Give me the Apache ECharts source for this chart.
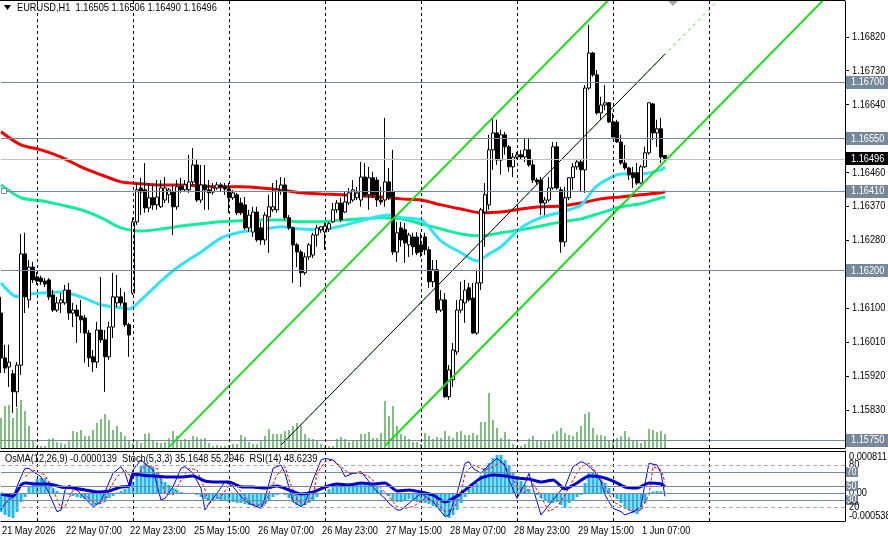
<!DOCTYPE html>
<html><head><meta charset="utf-8">
<script src="https://cdn.jsdelivr.net/npm/echarts@6/dist/echarts.min.js"></script>
<style>html,body{margin:0;padding:0;background:#fff}#c{width:888px;height:546px}</style>
</head><body><div id="c"></div>
<script>
// ---- data (EURUSD H1, bar 0 = 21 May 15:00 ... bar 166 = 1 Jun 13:00) ----
const open=[1.16087,1.15968,1.15944,1.15926,1.15878,1.15949,1.16244,1.16122,1.16209,1.16183,1.16180,1.16172,1.16175,1.16135,1.16095,1.16114,1.16114,1.16148,1.16087,1.16095,1.16079,1.16074,1.16034,1.15971,1.15957,1.16042,1.16016,1.15971,1.16050,1.16114,1.16130,1.16114,1.16056,1.16140,1.16329,1.16419,1.16414,1.16366,1.16393,1.16374,1.16369,1.16387,1.16401,1.16408,1.16369,1.16422,1.16414,1.16414,1.16435,1.16480,1.16387,1.16427,1.16414,1.16408,1.16419,1.16427,1.16422,1.16416,1.16393,1.16401,1.16379,1.16374,1.16313,1.16302,1.16355,1.16313,1.16281,1.16342,1.16361,1.16361,1.16414,1.16427,1.16340,1.16313,1.16268,1.16249,1.16194,1.16236,1.16241,1.16294,1.16308,1.16302,1.16310,1.16329,1.16361,1.16379,1.16355,1.16379,1.16387,1.16393,1.16387,1.16448,1.16401,1.16446,1.16440,1.16387,1.16387,1.16435,1.16408,1.16249,1.16313,1.16308,1.16268,1.16289,1.16289,1.16268,1.16289,1.16255,1.16170,1.16202,1.16095,1.16122,1.15865,1.15910,1.15984,1.16095,1.16114,1.16154,1.16127,1.16034,1.16167,1.16355,1.16374,1.16520,1.16565,1.16493,1.16560,1.16528,1.16475,1.16501,1.16507,1.16501,1.16520,1.16480,1.16440,1.16440,1.16379,1.16387,1.16419,1.16528,1.16414,1.16276,1.16393,1.16446,1.16475,1.16488,1.16467,1.16684,1.16777,1.16719,1.16618,1.16639,1.16645,1.16594,1.16594,1.16541,1.16485,1.16472,1.16459,1.16459,1.16432,1.16475,1.16512,1.16642,1.16565,1.16576,1.16505];
const high=[1.16130,1.16003,1.16003,1.15936,1.15957,1.16297,1.16300,1.16228,1.16223,1.16196,1.16186,1.16180,1.16180,1.16148,1.16130,1.16140,1.16162,1.16167,1.16114,1.16109,1.16122,1.16082,1.16042,1.15989,1.16064,1.16183,1.16042,1.16064,1.16194,1.16188,1.16154,1.16143,1.16061,1.16340,1.16432,1.16446,1.16485,1.16432,1.16427,1.16440,1.16440,1.16448,1.16419,1.16427,1.16440,1.16446,1.16440,1.16507,1.16525,1.16493,1.16480,1.16480,1.16440,1.16432,1.16435,1.16432,1.16432,1.16432,1.16414,1.16406,1.16393,1.16395,1.16361,1.16369,1.16369,1.16329,1.16355,1.16401,1.16432,1.16440,1.16448,1.16446,1.16347,1.16316,1.16273,1.16255,1.16247,1.16273,1.16300,1.16321,1.16318,1.16326,1.16329,1.16379,1.16387,1.16393,1.16408,1.16419,1.16440,1.16422,1.16488,1.16485,1.16475,1.16462,1.16448,1.16422,1.16605,1.16472,1.16520,1.16329,1.16329,1.16326,1.16300,1.16300,1.16302,1.16300,1.16300,1.16263,1.16228,1.16228,1.16148,1.16140,1.15949,1.16008,1.16122,1.16170,1.16175,1.16167,1.16167,1.16202,1.16366,1.16432,1.16560,1.16605,1.16600,1.16573,1.16568,1.16533,1.16512,1.16515,1.16520,1.16552,1.16552,1.16493,1.16446,1.16448,1.16395,1.16448,1.16541,1.16541,1.16422,1.16422,1.16448,1.16485,1.16493,1.16493,1.16692,1.16852,1.16780,1.16732,1.16661,1.16692,1.16647,1.16618,1.16600,1.16560,1.16533,1.16475,1.16475,1.16485,1.16480,1.16528,1.16645,1.16645,1.16600,1.16605,1.16506];
const low=[1.15928,1.15928,1.15891,1.15822,1.15838,1.15923,1.16087,1.16101,1.16167,1.16162,1.16162,1.16156,1.16122,1.16090,1.16090,1.16087,1.16109,1.16069,1.16050,1.16008,1.16034,1.15955,1.15944,1.15931,1.15941,1.16008,1.15878,1.15963,1.16021,1.16103,1.16106,1.16050,1.15971,1.16135,1.16321,1.16347,1.16353,1.16355,1.16361,1.16361,1.16366,1.16379,1.16379,1.16294,1.16361,1.16406,1.16408,1.16406,1.16427,1.16382,1.16379,1.16361,1.16361,1.16401,1.16414,1.16408,1.16401,1.16353,1.16387,1.16347,1.16347,1.16308,1.16302,1.16289,1.16276,1.16268,1.16268,1.16247,1.16355,1.16353,1.16401,1.16334,1.16308,1.16167,1.16209,1.16156,1.16188,1.16228,1.16233,1.16263,1.16300,1.16255,1.16302,1.16326,1.16353,1.16329,1.16353,1.16374,1.16382,1.16387,1.16369,1.16395,1.16361,1.16393,1.16369,1.16374,1.16369,1.16387,1.16241,1.16223,1.16263,1.16220,1.16236,1.16241,1.16241,1.16236,1.16241,1.16154,1.16156,1.16087,1.16090,1.15862,1.15857,1.15891,1.15976,1.16087,1.16061,1.16117,1.16032,1.16029,1.16148,1.16263,1.16361,1.16467,1.16480,1.16454,1.16507,1.16462,1.16448,1.16493,1.16493,1.16488,1.16475,1.16432,1.16427,1.16347,1.16347,1.16382,1.16414,1.16414,1.16247,1.16263,1.16387,1.16414,1.16467,1.16408,1.16406,1.16679,1.16714,1.16613,1.16600,1.16626,1.16592,1.16554,1.16539,1.16480,1.16467,1.16440,1.16419,1.16427,1.16430,1.16472,1.16507,1.16546,1.16528,1.16485,1.16490];
const close=[1.15968,1.15941,1.15957,1.15878,1.15949,1.16244,1.16130,1.16209,1.16175,1.16172,1.16170,1.16164,1.16130,1.16095,1.16114,1.16122,1.16148,1.16087,1.16095,1.16079,1.16069,1.16034,1.15968,1.15957,1.16042,1.16016,1.15971,1.16050,1.16130,1.16130,1.16114,1.16056,1.16029,1.16329,1.16414,1.16408,1.16366,1.16393,1.16374,1.16395,1.16419,1.16419,1.16414,1.16369,1.16422,1.16414,1.16427,1.16435,1.16480,1.16387,1.16427,1.16414,1.16406,1.16419,1.16427,1.16422,1.16416,1.16393,1.16406,1.16353,1.16353,1.16313,1.16347,1.16355,1.16281,1.16281,1.16347,1.16369,1.16369,1.16414,1.16427,1.16340,1.16313,1.16268,1.16249,1.16194,1.16236,1.16268,1.16294,1.16313,1.16316,1.16318,1.16324,1.16361,1.16379,1.16334,1.16382,1.16406,1.16414,1.16406,1.16448,1.16401,1.16446,1.16401,1.16387,1.16382,1.16435,1.16395,1.16249,1.16300,1.16281,1.16273,1.16294,1.16263,1.16247,1.16249,1.16255,1.16170,1.16202,1.16095,1.16122,1.15865,1.15936,1.15989,1.16095,1.16122,1.16148,1.16122,1.16034,1.16167,1.16361,1.16401,1.16520,1.16565,1.16493,1.16560,1.16528,1.16475,1.16501,1.16507,1.16501,1.16520,1.16480,1.16440,1.16435,1.16379,1.16387,1.16419,1.16528,1.16419,1.16276,1.16393,1.16446,1.16475,1.16488,1.16467,1.16684,1.16777,1.16719,1.16618,1.16639,1.16645,1.16594,1.16554,1.16541,1.16485,1.16472,1.16454,1.16446,1.16432,1.16475,1.16512,1.16645,1.16565,1.16576,1.16501,1.16496];
const volume=[3000,4200,4300,3000,4000,4800,3700,2200,700,200,200,200,900,1000,600,500,400,700,1700,1600,1800,1200,1200,1800,2500,2900,3400,2800,1800,2200,1600,1200,700,500,700,500,1400,1500,700,600,500,600,1000,1700,1200,700,900,800,1200,1100,900,1000,500,200,300,200,200,300,400,400,1300,1100,600,400,400,700,1200,1900,1400,1400,1400,1700,1800,2200,2500,2200,1400,1000,900,800,400,200,200,200,900,1100,900,600,700,700,1400,1400,1600,1000,1000,1500,4700,3200,4200,2200,1400,1200,900,600,600,400,1500,1200,900,1100,1000,1700,1200,1000,1600,1700,1300,1300,1500,1300,2600,2600,5500,2800,2000,1000,1600,900,400,200,200,400,900,1200,700,800,700,800,1400,1700,2000,1500,1300,1200,1600,2200,3400,3600,2000,1300,1300,1200,800,700,1000,1200,1700,1100,700,700,500,800,1900,1800,1600,1700,1400];
// moving averages read at sampled bars [bar, price]
const maRed=[[0,1.16568],[5,1.16533],[10,1.16520],[15,1.16501],[20,1.16475],[25,1.16454],[30,1.16435],[35,1.16430],[40,1.16427],[45,1.16427],[50,1.16424],[55,1.16422],[60,1.16422],[65,1.16419],[70,1.16414],[75,1.16406],[80,1.16403],[85,1.16401],[90,1.16398],[95,1.16395],[100,1.16390],[105,1.16387],[110,1.16374],[115,1.16363],[120,1.16353],[125,1.16355],[130,1.16363],[135,1.16369],[140,1.16371],[145,1.16379],[150,1.16390],[155,1.16395],[160,1.16401],[165,1.16406],[166,1.16409]];
const maGreen=[[0,1.16427],[5,1.16393],[10,1.16385],[15,1.16374],[20,1.16361],[25,1.16340],[30,1.16313],[35,1.16305],[40,1.16310],[45,1.16318],[50,1.16324],[55,1.16329],[60,1.16332],[65,1.16334],[70,1.16334],[75,1.16329],[80,1.16329],[85,1.16334],[90,1.16337],[95,1.16340],[100,1.16337],[105,1.16324],[110,1.16310],[115,1.16297],[120,1.16292],[125,1.16300],[130,1.16308],[135,1.16318],[140,1.16329],[145,1.16337],[150,1.16353],[155,1.16369],[160,1.16377],[165,1.16393],[166,1.16395]];
const maCyan=[[0,1.16167],[4,1.16130],[5,1.16135],[10,1.16140],[15,1.16143],[20,1.16130],[25,1.16109],[30,1.16101],[32,1.16098],[35,1.16122],[40,1.16172],[45,1.16215],[50,1.16249],[55,1.16286],[60,1.16302],[65,1.16308],[70,1.16316],[75,1.16310],[80,1.16308],[85,1.16318],[90,1.16332],[97,1.16347],[100,1.16340],[105,1.16334],[110,1.16278],[115,1.16247],[119,1.16225],[122,1.16244],[125,1.16263],[130,1.16313],[135,1.16340],[140,1.16355],[145,1.16374],[148,1.16414],[150,1.16432],[155,1.16456],[160,1.16456],[165,1.16467],[166,1.16475]];
// drawn trendlines (anchor points [bar, price])
const channelUpper=[[42,1.15732],[153,1.16930]];
const channelMid=[[70,1.15737],[166,1.16774]];
const channelMidRay=[[70,1.15737],[179,1.16914]];
const channelLower=[[96,1.15735],[206,1.16922]];
// horizontal levels
const levels=[1.16700,1.16550,1.16410,1.16200,1.15750];
const lastPrice=1.16496;
const priceTicks=[1.15740,1.15830,1.15920,1.16010,1.16100,1.16190,1.16280,1.16370,1.16460,1.16550,1.16640,1.16730,1.16820];
const daySeparators=[9,33,57,81,105,129,153,177];
const timeLabels=[[0,'21 May 2026'],[16,'22 May 07:00'],[32,'22 May 23:00'],[48,'25 May 15:00'],[64,'26 May 07:00'],[80,'26 May 23:00'],[96,'27 May 15:00'],[112,'28 May 07:00'],[128,'28 May 23:00'],[144,'29 May 15:00'],[160,'1 Jun 07:00']];
// indicators
const osma=[-0.000364,-0.000422,-0.000461,-0.000480,-0.000364,-0.000172,-0.000076,0.000117,0.000194,0.000271,0.000290,0.000290,0.000194,0.000098,0.000040,0.000008,0.000008,-0.000037,-0.000056,-0.000076,-0.000095,-0.000114,-0.000172,-0.000230,-0.000210,-0.000172,-0.000152,-0.000095,-0.000056,0.000010,0.000040,0.000079,0.000098,0.000214,0.000406,0.000522,0.000580,0.000541,0.000483,0.000387,0.000290,0.000214,0.000156,0.000098,0.000059,0.000021,0.000005,-0.000018,0.000005,-0.000037,-0.000076,-0.000114,-0.000133,-0.000133,-0.000114,-0.000133,-0.000152,-0.000172,-0.000172,-0.000191,-0.000191,-0.000210,-0.000230,-0.000230,-0.000268,-0.000268,-0.000210,-0.000133,-0.000076,-0.000037,0.000005,-0.000037,-0.000095,-0.000172,-0.000230,-0.000249,-0.000230,-0.000191,-0.000133,-0.000076,-0.000018,0.000021,0.000079,0.000117,0.000156,0.000156,0.000175,0.000194,0.000194,0.000194,0.000194,0.000194,0.000194,0.000156,0.000117,0.000059,0.000005,-0.000056,-0.000133,-0.000172,-0.000172,-0.000133,-0.000114,-0.000133,-0.000172,-0.000172,-0.000191,-0.000210,-0.000249,-0.000287,-0.000345,-0.000441,-0.000480,-0.000422,-0.000326,-0.000191,-0.000076,0.000079,0.000117,0.000194,0.000348,0.000483,0.000580,0.000676,0.000733,0.000733,0.000637,0.000541,0.000406,0.000329,0.000233,0.000156,0.000079,0.000005,-0.000037,-0.000095,-0.000133,-0.000191,-0.000191,-0.000172,-0.000230,-0.000287,-0.000191,-0.000133,-0.000076,-0.000037,0.000194,0.000387,0.000387,0.000348,0.000252,0.000194,0.000098,-0.000037,-0.000114,-0.000191,-0.000268,-0.000326,-0.000384,-0.000403,-0.000326,-0.000191,0.000010,0.000030,0.000040,0.000030,-0.0000139];
const stochMain=[[0,15.7],[1,25.2],[3,34.8],[5,63.3],[6,75.2],[7,75.2],[8,70.5],[10,63.3],[12,39.5],[14,13.3],[15,15.7],[16,44.3],[17,51.4],[19,44.3],[21,32.4],[23,20.5],[25,27.6],[26,41.9],[28,68.1],[30,77.6],[31,68.1],[32,51.4],[33,72.9],[35,87.1],[38,72.9],[40,30.0],[41,32.4],[43,49.0],[45,75.2],[46,77.6],[48,68.1],[50,46.7],[51,15.7],[52,25.2],[54,39.5],[56,56.2],[58,49.0],[60,34.8],[62,25.2],[65,18.1],[66,32.4],[68,75.2],[70,80.0],[71,68.1],[73,27.6],[75,20.5],[76,25.2],[78,58.6],[80,87.1],[81,89.5],[83,87.1],[85,75.2],[86,63.3],[88,68.1],[90,70.5],[91,63.3],[94,41.9],[96,32.4],[97,25.2],[99,15.7],[100,15.7],[101,20.5],[105,39.5],[108,27.6],[111,6.2],[112,8.6],[114,39.5],[116,82.4],[117,84.8],[118,75.2],[120,68.1],[122,80.0],[124,89.5],[126,80.0],[127,58.6],[129,32.4],[131,53.8],[132,68.1],[133,46.7],[135,8.6],[136,15.7],[138,30.0],[140,44.3],[141,49.0],[143,77.6],[145,84.8],[146,82.4],[148,72.9],[150,56.2],[151,37.1],[153,18.1],[155,13.3],[156,8.6],[158,13.3],[160,20.5],[161,53.8],[162,82.4],[164,80.0],[165,68.1],[166,35.16]];
const stochSignal=[[6,63.3],[8,72.9],[11,65.7],[13,44.3],[15,18.1],[16,20.5],[18,44.3],[20,44.3],[22,32.4],[24,22.9],[26,27.6],[27,44.3],[29,63.3],[31,72.9],[32,65.7],[34,63.3],[36,80.0],[39,75.2],[41,39.5],[43,37.1],[45,58.6],[47,75.2],[49,72.9],[51,44.3],[52,25.2],[55,34.8],[57,51.4],[59,49.0],[61,34.8],[63,22.9],[66,22.9],[67,39.5],[69,65.7],[71,77.6],[72,58.6],[74,30.0],[76,22.9],[78,34.8],[79,68.1],[81,84.8],[83,87.1],[85,77.6],[87,68.1],[90,68.1],[92,63.3],[95,46.7],[97,34.8],[99,20.5],[101,18.1],[103,20.5],[106,32.4],[109,25.2],[111,13.3],[113,15.7],[115,39.5],[116,68.1],[118,80.0],[121,72.9],[123,77.6],[125,84.8],[127,70.5],[129,49.0],[131,39.5],[133,53.8],[135,34.8],[137,13.3],[139,20.5],[141,37.1],[143,58.6],[145,77.6],[147,82.4],[149,68.1],[151,49.0],[153,27.6],[156,18.1],[158,13.3],[160,15.7],[162,37.1],[163,77.6],[165,72.9],[166,55.29]];
const rsi=[[0,38.6],[3,35.7],[5,51.4],[6,54.3],[9,52.9],[12,52.9],[15,48.6],[18,47.1],[21,44.3],[24,41.4],[27,42.9],[30,48.6],[32,49.5],[33,67.1],[36,65.0],[39,64.0],[42,63.0],[45,63.0],[48,64.3],[51,57.1],[54,55.7],[57,55.7],[60,49.0],[63,48.6],[66,47.1],[69,50.0],[72,44.3],[75,38.6],[78,41.4],[81,48.6],[84,52.9],[87,51.4],[90,54.3],[93,52.9],[96,54.3],[99,42.9],[102,44.3],[105,41.4],[108,37.1],[111,27.1],[114,35.7],[117,48.6],[120,61.4],[123,65.7],[126,64.3],[129,61.4],[132,60.0],[135,55.7],[138,58.6],[141,45.7],[144,54.3],[147,64.3],[150,62.9],[153,57.1],[156,48.6],[159,47.1],[162,54.3],[165,52.9],[166,48.62]];
const indicatorTitle='OsMA(12,26,9) -0.0000139  Stoch(5,3,3) 35.1648 55.2946  RSI(14) 48.6239';
const osmaRange=[-0.000538,0.000811];
const stochLevels=[80,70,50,30,20];

// ---- chart ----
const FONT="'Liberation Sans',Arial,sans-serif";
const SX=0.84; // horizontal squeeze of the reference's text
const N=212;
const cats=Array.from({length:N},(_,i)=>String(i));
const last=open.length-1;
const candles=open.map((o,i)=>[o,close[i],low[i],high[i]]);
const chart=echarts.init(document.getElementById('c'),null,{renderer:'canvas'});
const trend=(data,color,width,type,name)=>({type:'line',name,xAxisIndex:0,yAxisIndex:0,data,showSymbol:false,symbol:'none',silent:true,clip:true,lineStyle:{color,width,type},z:4});
const option={
  animation:false,
  backgroundColor:'#fff',
  textStyle:{fontFamily:FONT},
  grid:[{left:1,right:43,top:1,height:447},{left:1,right:43,top:451,height:70}],
  xAxis:[
    {type:'category',gridIndex:0,data:cats,boundaryGap:false,axisLine:{show:true,lineStyle:{color:'#000',width:1}},axisTick:{show:false},axisLabel:{show:false},splitLine:{show:false}},
    {type:'category',gridIndex:1,data:cats,boundaryGap:false,axisLine:{show:true,lineStyle:{color:'#000',width:1}},axisTick:{show:false},axisLabel:{show:false},splitLine:{show:false}}
  ],
  yAxis:[
    {type:'value',gridIndex:0,position:'right',min:1.15729,max:1.16915,scale:true,
     axisLine:{show:true,lineStyle:{color:'#000'}},
     axisTick:{show:true,customValues:priceTicks,length:4,lineStyle:{color:'#000'}},
     axisLabel:{show:false},splitLine:{show:false}},
    {type:'value',gridIndex:0,min:0,max:44700,show:false},
    {type:'value',gridIndex:1,position:'right',min:0,max:100,axisLine:{show:true,lineStyle:{color:'#000'}},axisTick:{show:false},axisLabel:{show:false},splitLine:{show:false}},
    {type:'value',gridIndex:1,min:osmaRange[0],max:osmaRange[1],show:false}
  ],
  series:[
    {type:'bar',name:'Volumes',xAxisIndex:0,yAxisIndex:1,data:volume,barWidth:1,itemStyle:{color:'#008000'},silent:true,z:1},
    {type:'line',name:'MA red',xAxisIndex:0,yAxisIndex:0,data:maRed,showSymbol:false,smooth:0.3,silent:true,lineStyle:{color:'#f00000',width:3},z:3,
     markLine:{silent:true,symbol:'none',animation:false,precision:6,label:{show:false},
       data:[
         ...levels.map(v=>({yAxis:v,lineStyle:{color:'#778899',width:1,type:'solid'}})),
         {yAxis:lastPrice,lineStyle:{color:'#c0c0c0',width:1,type:'solid'}},
         ...daySeparators.map(i=>({xAxis:i,lineStyle:{color:'#000',width:1,type:[3,3]}}))
       ]}},
    {type:'candlestick',name:'EURUSD',xAxisIndex:0,yAxisIndex:0,data:candles,barWidth:3,silent:true,z:3,
     itemStyle:{color:'#fff',color0:'#000',borderColor:'#000',borderColor0:'#000',borderWidth:1}},
    {type:'line',name:'MA green',xAxisIndex:0,yAxisIndex:0,data:maGreen,showSymbol:false,smooth:0.3,silent:true,lineStyle:{color:'#12ec9c',width:3},z:3},
    {type:'line',name:'MA cyan',xAxisIndex:0,yAxisIndex:0,data:maCyan,showSymbol:false,smooth:0.3,silent:true,lineStyle:{color:'#2ee4f6',width:3},z:3},
    trend(channelUpper,'#18e018',2,'solid','upper'),
    trend(channelMidRay,'#40e040',1,[3,4],'mid ray'),
    trend(channelMid,'#000',1,'solid','mid'),
    trend(channelLower,'#18e018',2,'solid','lower'),
    {type:'bar',name:'OsMA',xAxisIndex:1,yAxisIndex:3,data:osma,barWidth:3,itemStyle:{color:'#1db8f2'},silent:true,z:2,
     markLine:{silent:true,symbol:'none',animation:false,precision:6,label:{show:false},
       data:[
         {yAxis:0,lineStyle:{color:'#778899',width:1,type:'solid'}},
         ...daySeparators.map(i=>({xAxis:i,lineStyle:{color:'#000',width:1,type:[3,3]}}))
       ]}},
    {type:'line',name:'Stoch signal',xAxisIndex:1,yAxisIndex:2,data:stochSignal,showSymbol:false,silent:true,lineStyle:{color:'#ff0000',width:1,type:[3,2]},z:3,
     markLine:{silent:true,symbol:'none',animation:false,precision:2,label:{show:false},
       data:stochLevels.map(v=>{
         const dashed=(v===80||v===20);
         return {yAxis:v,lineStyle:{color:dashed?'#a8a8a8':'#778899',width:1,type:dashed?[4,3]:'solid'}};
       })}},
    {type:'line',name:'Stoch main',xAxisIndex:1,yAxisIndex:2,data:stochMain,showSymbol:false,silent:true,lineStyle:{color:'#0000ff',width:1},z:3},
    {type:'line',name:'RSI',xAxisIndex:1,yAxisIndex:2,data:rsi,showSymbol:false,smooth:0.2,silent:true,lineStyle:{color:'#0000cd',width:3},z:4}
  ]
};
chart.setOption(option);

// ---- texts, boxes and frame, placed through the chart's own scales ----
const px=(xi)=>chart.convertToPixel({xAxisIndex:1},xi);
const py=(v)=>chart.convertToPixel({yAxisIndex:0},v);
const pStoch=(v)=>chart.convertToPixel({yAxisIndex:2},v);
const pOsma=(v)=>chart.convertToPixel({yAxisIndex:3},v);
const xRight=px(N-1);
const txt=(text,x,y,opt={})=>({type:'text',x,y,scaleX:SX,z:100,silent:true,
  style:{text,fill:opt.fill||'#000',font:`${opt.size||11}px ${FONT}`,verticalAlign:opt.va||'middle',align:'left'}});
const box=(text,y,bg,w,h,size)=>({type:'group',z:100,silent:true,children:[
  {type:'rect',shape:{x:xRight+1,y:Math.round(y-h/2),width:w,height:h},style:{fill:bg},z:100},
  txt(text,xRight+(w>20?6:2),y,{fill:'#fff',size})]});
const g=[];
g.push({type:'line',shape:{x1:0,y1:0.5,x2:xRight,y2:0.5},style:{stroke:'#000',lineWidth:1},silent:true,z:100});
g.push({type:'line',shape:{x1:0,y1:451.5,x2:xRight,y2:451.5},style:{stroke:'#000',lineWidth:1},silent:true,z:100});
const xShift=chart.convertToPixel({xAxisIndex:0},168);
g.push({type:'polygon',shape:{points:[[xShift-5,1],[xShift+5,1],[xShift,6]]},style:{fill:'#a8a8a8'},silent:true,z:100});
g.push({type:'polygon',shape:{points:[[4,5],[11,5],[7.5,10]]},style:{fill:'#000'},silent:true,z:100});
g.push(txt(`EURUSD,H1  ${open[last].toFixed(5)} ${high[last].toFixed(5)} ${low[last].toFixed(5)} ${close[last].toFixed(5)}`,17,8));
g.push(txt(indicatorTitle,5,459));
// anchor squares of the 1.16410 line
g.push({type:'rect',shape:{x:1.5,y:Math.round(py(levels[2]))-2.5,width:5,height:5},style:{fill:'#fff',stroke:'#778899',lineWidth:1},silent:true,z:100});
// price scale labels
priceTicks.forEach(v=>g.push(txt(v.toFixed(5),xRight+7,py(v))));
// level boxes
levels.forEach(v=>g.push(box(v.toFixed(5),py(v),'#778899',43,13,11)));
g.push(box(lastPrice.toFixed(5),py(lastPrice),'#000',43,13,11));
// time labels
timeLabels.forEach(([i,t])=>g.push(txt(t,px(i)+1,531)));
// indicator scale labels
g.push(txt(osmaRange[1].toFixed(6),xRight+4,pOsma(osmaRange[1]),{va:'top'}));
g.push(txt(osmaRange[0].toFixed(6),xRight+4,pOsma(osmaRange[0]),{va:'bottom'}));
g.push(txt('0.00',xRight+4,pOsma(0)));
stochLevels.forEach(v=>{
  if(v===80||v===20) g.push(txt(String(v),xRight+4,pStoch(v)));
  else g.push(box(String(v),pStoch(v),'#778899',12,10,10));
});
chart.setOption({graphic:g});
</script></body></html>
